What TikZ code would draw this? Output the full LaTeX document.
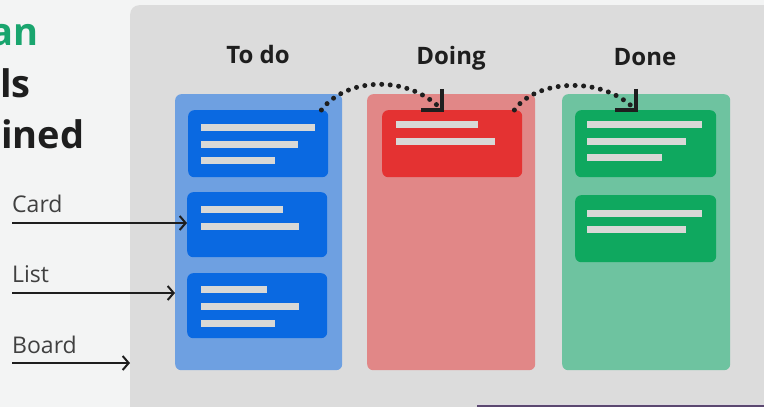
\documentclass[tikz,border=0pt]{standalone}
\usepackage{fontspec}
\setmainfont{Open Sans}
\usetikzlibrary{arrows.meta}
\definecolor{pagebg}{HTML}{F3F4F4}
\definecolor{boardc}{HTML}{DCDCDC}
\definecolor{todoL}{HTML}{6EA0E1}
\definecolor{todoC}{HTML}{0A69E1}
\definecolor{doingL}{HTML}{E18787}
\definecolor{doingC}{HTML}{E43232}
\definecolor{doneL}{HTML}{6EC3A0}
\definecolor{doneC}{HTML}{0FA85F}
\definecolor{barc}{HTML}{D8D8D6}
\definecolor{titlegreen}{HTML}{19A56E}
\definecolor{inkc}{HTML}{1E1E1E}
\definecolor{purplec}{HTML}{5B4870}
\tikzset{
  listbox/.style={rectangle, rounded corners=6pt, inner sep=0pt, anchor=north west},
  cardbox/.style={rectangle, rounded corners=6pt, inner sep=0pt, anchor=north west, minimum width=140, minimum height=66},
  bar/.style={barc, line width=7pt},
  head/.style={font=\bfseries\fontsize{24}{26}\selectfont, text=inkc, inner sep=0pt, anchor=base},
  sidelab/.style={font=\fontsize{23}{26}\selectfont, text=inkc!85!white, inner sep=0pt, anchor=base west},
  bigtitle/.style={font=\bfseries\fontsize{38}{44}\selectfont, inner sep=0pt},
  pointer/.style={draw=inkc, line width=2pt, -{Straight Barb[length=6pt,width=14pt,line width=2pt]}},
  moveto/.style={draw=inkc, line width=5pt, line cap=round, dash pattern=on 0pt off 8.5pt,
     -{Straight Barb[length=15pt,width=30pt,line width=3.8pt]}}
}
\begin{document}
\begin{tikzpicture}[x=1pt,y=-1pt]
\useasboundingbox (0,0) rectangle (764,407);
\clip (0,0) rectangle (764,407);
\fill[pagebg] (0,0) rectangle (764,407);
% board
\node[listbox, fill=boardc, rounded corners=9pt, minimum width=660, minimum height=420] (board) at (130,5) {};
% title fragments
\node[bigtitle, text=titlegreen, anchor=base east] (t1) at (39,45) {an};
\node[bigtitle, text=inkc, anchor=base west] (t2) at (0,97) {ls};
\node[bigtitle, text=inkc, anchor=base west] (t3) at (1,148) {ined};
% lists
\node[listbox, fill=todoL, minimum width=167, minimum height=276] (todo) at (175,94) {};
\node[listbox, fill=doingL, minimum width=168, minimum height=276] (doing) at (367,94) {};
\node[listbox, fill=doneL, minimum width=168, minimum height=276] (done) at (562,94) {};
% headers
\node[head] (htodo) at (258,63) {To do};
\node[head] (hdoing) at (451,64) {Doing};
\node[head] (hdone) at (645,65) {Done};
% cards
\node[cardbox, fill=todoC, minimum height=67] (todo1) at (188,110) {};
\node[cardbox, fill=todoC, minimum height=65] (todo2) at (187,192) {};
\node[cardbox, fill=todoC, minimum height=65] (todo3) at (187,273) {};
\node[cardbox, fill=doingC, minimum height=67] (doing1) at (382,110) {};
\node[cardbox, fill=doneC, minimum width=141, minimum height=67] (done1) at (575,110) {};
\node[cardbox, fill=doneC, minimum width=141, minimum height=67] (done2) at (575,195) {};
% bars
\draw[bar] (201,127.5) -- (315,127.5);
\draw[bar] (201,144) -- (298,144);
\draw[bar] (201,160) -- (275,160);
\draw[bar] (201,209) -- (283,209);
\draw[bar] (201,226) -- (299,226);
\draw[bar] (201,289) -- (267,289);
\draw[bar] (201,306) -- (299,306);
\draw[bar] (201,323) -- (275,323);
\draw[bar] (396,124.5) -- (478,124.5);
\draw[bar] (396,141) -- (495,141);
\draw[bar] (587,124.5) -- (702,124.5);
\draw[bar] (587,141) -- (686,141);
\draw[bar] (587,157) -- (662,157);
\draw[bar] (587,213) -- (702,213);
\draw[bar] (587,229) -- (686,229);
% side labels
\node[sidelab] (lcard) at (12,212) {Card};
\node[sidelab] (llist) at (12,282) {List};
\node[sidelab] (lboard) at (12,353) {Board};
\coordinate (scard) at (12,223);
\coordinate (slist) at (12,293);
\coordinate (sboard) at (12,363);
\draw[pointer] (scard) -- (scard -| todo2.west);
\draw[pointer] (slist) -- (slist -| todo.west);
\draw[pointer] (sboard) -- (sboard -| board.west);
% moves
\coordinate (m1s) at ([xshift=-7pt]todo1.north east);
\coordinate (m1e) at ([xshift=-8pt,yshift=-2pt]doing1.north);
\coordinate (m2s) at ([xshift=-8pt]doing1.north east);
\coordinate (m2e) at ([xshift=-8pt,yshift=-2pt]done1.north);
\draw[moveto] (m1s) .. controls +(24,-32) and +(-38,-38) .. (m1e);
\draw[moveto] (m2s) .. controls +(21,-30) and +(-37,-37) .. (m2e);
% bottom strip
\fill[white!80!purplec] (477,403.5) rectangle (764,405);
\fill[purplec] (477,405) rectangle (764,407);
\end{tikzpicture}
\end{document}
